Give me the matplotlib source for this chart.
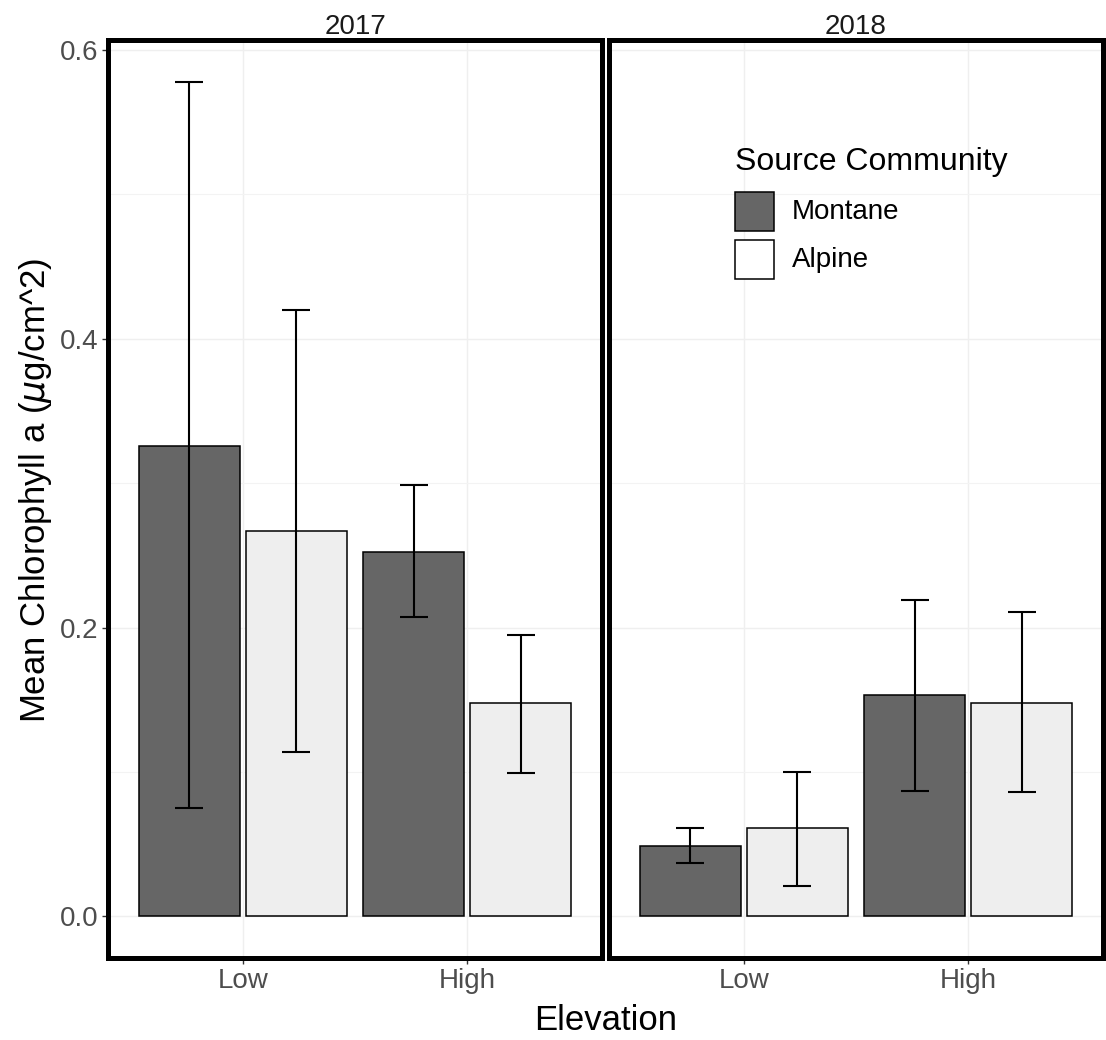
import matplotlib
matplotlib.use("Agg")
import matplotlib.pyplot as plt
from matplotlib.patches import Rectangle
import numpy as np

plt.rcParams['font.family'] = ['Liberation Sans', 'DejaVu Sans']
plt.rcParams['mathtext.fontset'] = 'dejavusans'

years = ["2017", "2018"]
elevations = ["Low", "High"]
communities = ["Montane", "Alpine"]
colors = {"Montane": "#666666", "Alpine": "#EEEEEE"}

# mean values [year][community][elevation]
means = {
    "2017": {"Montane": [0.326, 0.252], "Alpine": [0.267, 0.148]},
    "2018": {"Montane": [0.049, 0.153], "Alpine": [0.061, 0.148]},
}
err_low = {
    "2017": {"Montane": [0.075, 0.207], "Alpine": [0.114, 0.099]},
    "2018": {"Montane": [0.037, 0.087], "Alpine": [0.021, 0.086]},
}
err_high = {
    "2017": {"Montane": [0.578, 0.299], "Alpine": [0.420, 0.195]},
    "2018": {"Montane": [0.061, 0.219], "Alpine": [0.100, 0.211]},
}
y_ticks = [0.0, 0.2, 0.4, 0.6]
y_minor = [0.1, 0.3, 0.5]

W, H = 1106, 1040
fig = plt.figure(figsize=(W / 100, H / 100), dpi=100)

def fx(px):
    return px / W

def fy(py):
    return 1 - py / H

panel_left = [108, 609]
panel_w = 494
panel_top, panel_bot = 40, 958

dodge = 0.475
bar_w = 0.45
cap = 0.0625

axes = []
for i, yr in enumerate(years):
    ax = fig.add_axes([fx(panel_left[i]), fy(panel_bot), panel_w / W, (panel_bot - panel_top) / H])
    axes.append(ax)
    x = np.arange(1, len(elevations) + 1)
    for j, com in enumerate(communities):
        pos = x + (j - 0.5) * dodge
        m = np.array(means[yr][com])
        lo = np.array(err_low[yr][com])
        hi = np.array(err_high[yr][com])
        ax.bar(pos, m, width=bar_w, color=colors[com], edgecolor='black', linewidth=1.1, zorder=2)
        ax.vlines(pos, lo, hi, color='black', linewidth=1.5, zorder=3)
        ax.hlines(lo, pos - cap, pos + cap, color='black', linewidth=1.5, zorder=3)
        ax.hlines(hi, pos - cap, pos + cap, color='black', linewidth=1.5, zorder=3)
    ax.set_xlim(0.4, 2.6)
    ax.set_ylim(-0.0289, 0.607)
    ax.set_xticks(x)
    ax.set_xticklabels(elevations, fontsize=20, color='#4D4D4D')
    ax.set_yticks(y_ticks)
    ax.set_yticks(y_minor, minor=True)
    if i == 0:
        ax.set_yticklabels([f"{v:.1f}" for v in y_ticks], fontsize=20, color='#4D4D4D')
    else:
        ax.tick_params(axis='y', which='both', left=False, labelleft=False)
    ax.tick_params(axis='y', which='minor', left=False)
    ax.tick_params(axis='both', which='major', length=4, width=1, color='#333333', pad=3)
    ax.grid(True, which='major', color='#EFEFEF', linewidth=1.0, zorder=0)
    ax.grid(True, which='minor', axis='y', color='#F3F3F3', linewidth=0.8, zorder=0)
    ax.set_axisbelow(True)
    for s in ax.spines.values():
        s.set_linewidth(3.6)
        s.set_color('black')
    ax.set_title(yr, fontsize=20, color='#1A1A1A', pad=4)

fig.text(fx(606), fy(1021), "Elevation", fontsize=25, ha='center', va='center')
fig.text(fx(36), fy(490), r"Mean Chlorophyll a ($\mu$g/cm^2)", fontsize=25,
         rotation=90, ha='center', va='center')

# legend
fig.text(fx(735), fy(162), "Source Community", fontsize=23, ha='left', va='center')
leg_rows = [(192, "Montane"), (240, "Alpine")]
for top, name in leg_rows:
    fig.add_artist(Rectangle((fx(735), fy(top + 39)), 39 / W, 39 / H, transform=fig.transFigure,
                             facecolor=colors[name] if name == "Montane" else "white",
                             edgecolor='black', linewidth=1.1))
    fig.text(fx(792), fy(top + 20), name, fontsize=20, ha='left', va='center')

fig.savefig("out.png", dpi=100)
